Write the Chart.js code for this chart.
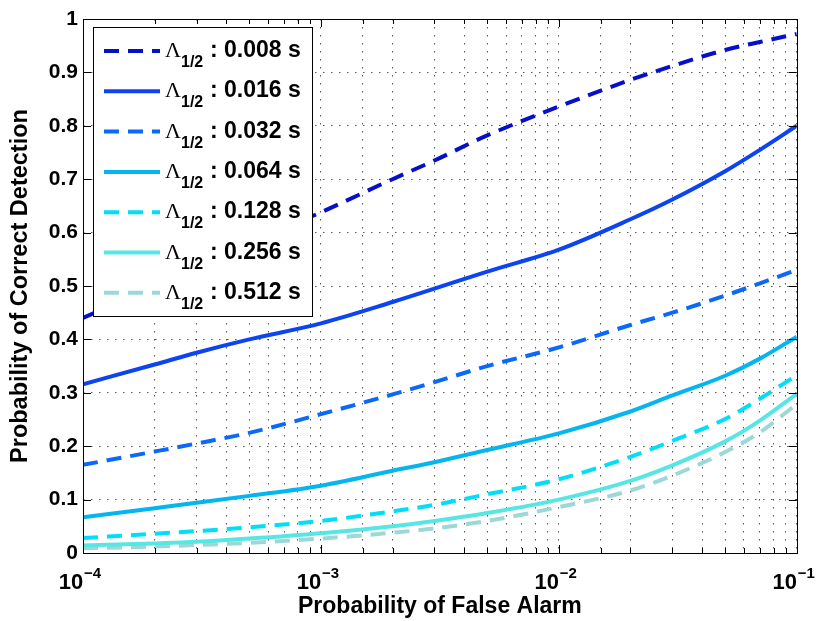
<!DOCTYPE html>
<html>
<head>
<meta charset="utf-8">
<script src="https://cdn.jsdelivr.net/npm/chart.js@4.4.0/dist/chart.umd.min.js"></script>
<style>
html, body { margin: 0; padding: 0; background: #fff; }
</style>
</head>
<body>
<canvas id="canvas" width="826" height="621"></canvas>
<script>
// False alarm probabilities where the curves were read
let falseAlarm = [1e-4, 2e-4, 3e-4, 5e-4, 1e-3, 2e-3, 3e-3, 5e-3, 1e-2, 2e-2, 3e-2, 5e-2, 7e-2, 1e-1];

// Probability of correct detection, one list per half-life
let pd008 = [0.44, 0.50, 0.535, 0.58, 0.638, 0.70, 0.735, 0.782, 0.836, 0.886, 0.912, 0.942, 0.957, 0.972];
let pd016 = [0.316, 0.353, 0.375, 0.40, 0.43, 0.47, 0.495, 0.527, 0.568, 0.625, 0.662, 0.715, 0.755, 0.80];
let pd032 = [0.165, 0.19, 0.205, 0.225, 0.26, 0.297, 0.32, 0.35, 0.385, 0.427, 0.45, 0.482, 0.505, 0.53];
let pd064 = [0.067, 0.084, 0.094, 0.107, 0.126, 0.154, 0.17, 0.193, 0.224, 0.265, 0.295, 0.332, 0.364, 0.405];
let pd128 = [0.028, 0.036, 0.041, 0.048, 0.06, 0.078, 0.09, 0.11, 0.138, 0.18, 0.21, 0.251, 0.289, 0.333];
let pd256 = [0.014, 0.018, 0.021, 0.027, 0.037, 0.05, 0.06, 0.075, 0.1, 0.135, 0.164, 0.209, 0.248, 0.298];
let pd512 = [0.009, 0.012, 0.015, 0.019, 0.027, 0.038, 0.046, 0.06, 0.086, 0.117, 0.145, 0.189, 0.226, 0.279];

let halfLives = ["0.008 s", "0.016 s", "0.032 s", "0.064 s", "0.128 s", "0.256 s", "0.512 s"];
let allSeries = [pd008, pd016, pd032, pd064, pd128, pd256, pd512];

// tick values / labels
let yTicks = [0, 0.1, 0.2, 0.3, 0.4, 0.5, 0.6, 0.7, 0.8, 0.9, 1];
let xExponents = { "-4": "\u22124", "-3": "\u22123", "-2": "\u22122", "-1": "\u22121" };

// styles
let lineColors = ["#0510C8", "#0C44F0", "#0C68F8", "#05B5F0", "#00DEF8", "#58E6E4", "#9CD8D8"];
let lineDashed = [true, false, true, false, true, false, true];

const FONT = '"Liberation Sans", Arial, Helvetica, sans-serif';

function powerOfTen(v) {
  let e = Math.log10(v);
  return Math.abs(e - Math.round(e)) < 1e-6 ? String(Math.round(e)) : null;
}

let datasets = allSeries.map(function(s, i) {
  return {
    label: "\u039B1/2 : " + halfLives[i],
    data: s.map(function(v, j) { return { x: falseAlarm[j], y: v }; }),
    borderColor: lineColors[i],
    backgroundColor: lineColors[i],
    borderWidth: 4,
    borderDash: lineDashed[i] ? [15, 9] : [],
    borderCapStyle: "butt",
    pointRadius: 0,
    fill: false,
    cubicInterpolationMode: "monotone"
  };
});

// Boite, graduations vers l'interieur, exposants et legende facon matlab
let frameAndLegend = {
  id: "frameAndLegend",
  afterDraw: function(chart) {
    let ctx = chart.ctx;
    let a = chart.chartArea;
    let xs = chart.scales.x, ys = chart.scales.y;
    ctx.save();
    ctx.strokeStyle = "#000";
    ctx.lineWidth = 1;
    ctx.setLineDash([]);
    ctx.beginPath();
    xs.ticks.forEach(function(t) {
      let px = Math.round(xs.getPixelForValue(t.value)) + 0.5;
      let len = powerOfTen(t.value) !== null ? 8 : 5;
      ctx.moveTo(px, a.bottom); ctx.lineTo(px, a.bottom - len);
      ctx.moveTo(px, a.top); ctx.lineTo(px, a.top + len);
    });
    ys.ticks.forEach(function(t) {
      let py = Math.round(ys.getPixelForValue(t.value)) + 0.5;
      ctx.moveTo(a.left, py); ctx.lineTo(a.left + 8, py);
      ctx.moveTo(a.right, py); ctx.lineTo(a.right - 8, py);
    });
    ctx.stroke();
    ctx.strokeRect(Math.round(a.left) + 0.5, Math.round(a.top) + 0.5, Math.round(a.right - a.left), Math.round(a.bottom - a.top));

    // exposants des graduations x
    ctx.fillStyle = "#000";
    ctx.font = "bold 15px " + FONT;
    ctx.textAlign = "left";
    ctx.textBaseline = "alphabetic";
    xs.ticks.forEach(function(t) {
      let e = powerOfTen(t.value);
      if (e === null) return;
      ctx.fillText(xExponents[e], xs.getPixelForValue(t.value) + 1, 578);
    });

    // legende
    let lx = 93, ly = 27, lw = 219, lh = 289;
    ctx.fillStyle = "#fff";
    ctx.fillRect(lx, ly, lw, lh);
    ctx.strokeRect(lx + 0.5, ly + 0.5, lw, lh);
    chart.data.datasets.forEach(function(ds, i) {
      let cy = 51 + i * 40.3;
      ctx.strokeStyle = ds.borderColor;
      ctx.lineWidth = 4;
      ctx.lineCap = "butt";
      ctx.setLineDash(ds.borderDash);
      ctx.beginPath();
      ctx.moveTo(104, cy); ctx.lineTo(160, cy);
      ctx.stroke();
      ctx.setLineDash([]);
      ctx.fillStyle = "#000";
      ctx.font = '22px "Liberation Serif", "Times New Roman", serif';
      ctx.fillText("\u039B", 165, cy + 6);
      ctx.font = "bold 16px " + FONT;
      ctx.fillText("1/2", 181, cy + 16);
      ctx.font = "bold 23px " + FONT;
      ctx.fillText(": " + halfLives[i], 210, cy + 6);
    });
    ctx.restore();
  }
};

let chart = new Chart(document.getElementById("canvas").getContext("2d"), {
  type: "line",
  data: { datasets: datasets },
  options: {
    responsive: false,
    animation: false,
    devicePixelRatio: 1,
    layout: { padding: { left: 0, right: 23, top: 19, bottom: 0 } },
    plugins: { legend: { display: false }, tooltip: { enabled: false } },
    scales: {
      x: {
        type: "logarithmic",
        min: 1e-4,
        max: 1e-1,
        afterFit: function(scale) { scale.height = 68; },
        ticks: {
          autoSkip: false,
          maxRotation: 0,
          color: "#000",
          padding: 17,
          labelOffset: -12,
          font: { family: FONT, size: 22, weight: "bold" },
          callback: function(value) {
            return powerOfTen(value) !== null ? "10" : "";
          }
        },
        grid: { color: "rgba(0,0,0,0.65)", lineWidth: 1, drawTicks: false },
        border: { display: false, dash: [1.5, 6.5] },
        title: {
          display: true,
          text: "Probability of False Alarm",
          color: "#000",
          font: { family: FONT, size: 23, weight: "bold" },
          padding: { top: 0, bottom: 1 }
        }
      },
      y: {
        type: "linear",
        min: 0,
        max: 1,
        afterFit: function(scale) { scale.width = 83; },
        afterBuildTicks: function(scale) { scale.ticks = yTicks.map(function(v) { return { value: v }; }); },
        ticks: {
          color: "#000",
          padding: 5,
          font: { family: FONT, size: 21, weight: "bold" },
          callback: function(value) {
            if (value === 0) return "0";
            if (value === 1) return "1";
            return value.toFixed(1);
          }
        },
        grid: { color: "rgba(0,0,0,0.65)", lineWidth: 1, drawTicks: false },
        border: { display: false, dash: [1.5, 6.5] },
        title: {
          display: true,
          text: "Probability of Correct Detection",
          color: "#000",
          font: { family: FONT, size: 23.5, weight: "bold" },
          padding: { top: 6, bottom: 0 }
        }
      }
    }
  },
  plugins: [frameAndLegend]
});
</script>
</body>
</html>
